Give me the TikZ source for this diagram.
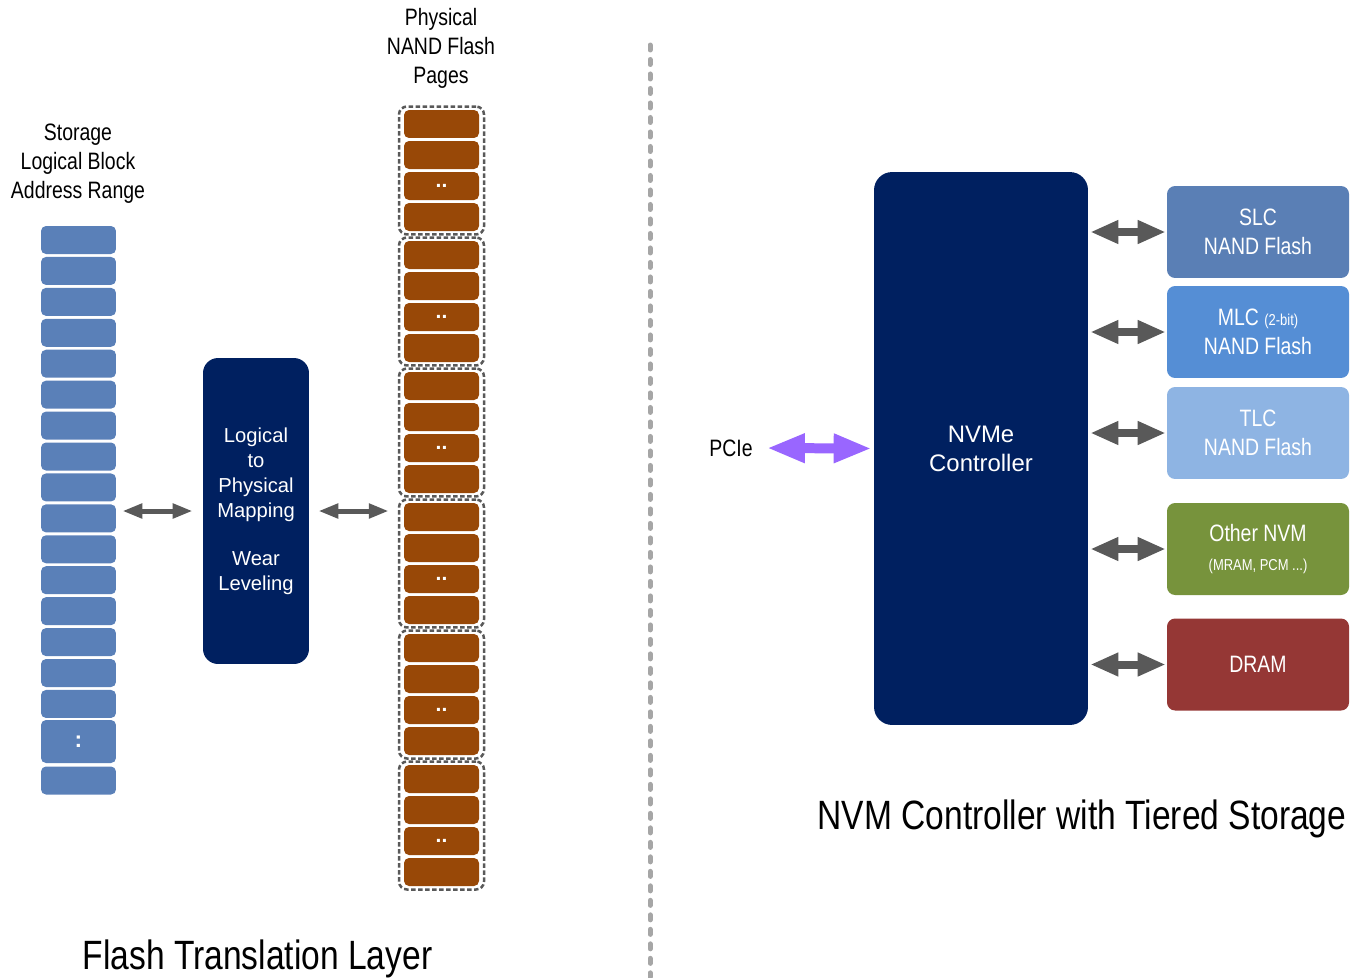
\documentclass[tikz,border=0pt]{standalone}
\usepackage{fontspec}
\setmainfont{Liberation Sans}
\newfontfamily\narrowfont[FakeStretch=0.82]{Liberation Sans}
\usetikzlibrary{arrows.meta}
\definecolor{lbablue}{HTML}{5A80B8}
\definecolor{pagebrown}{HTML}{984807}
\definecolor{ctrlnavy}{HTML}{002060}
\definecolor{arrowgray}{HTML}{595959}
\definecolor{sepgray}{HTML}{A6A6A6}
\definecolor{slcblue}{HTML}{5A7FB5}
\definecolor{mlcblue}{HTML}{558ED5}
\definecolor{tlcblue}{HTML}{8EB4E3}
\definecolor{nvmgreen}{HTML}{77933C}
\definecolor{dramred}{HTML}{953735}
\definecolor{pciepurple}{HTML}{9966FF}
\begin{document}
\begin{tikzpicture}[x=0.02cm,y=-0.02cm,
  headtext/.style={align=center,font=\narrowfont\fontsize{13.5}{16.6}\selectfont},
  titletext/.style={anchor=base,font=\narrowfont\fontsize{23.3}{28}\selectfont},
  lbablock/.style={fill=lbablue,rounded corners=0.1cm,minimum width=1.5cm,minimum height=0.56cm,inner sep=0pt,text=white,font=\fontsize{13}{13}\selectfont\bfseries},
  pageblock/.style={fill=pagebrown,rounded corners=0.1cm,minimum width=1.5cm,minimum height=0.56cm,inner sep=0pt,text=white,font=\fontsize{12}{12}\selectfont\bfseries},
  pagegroup/.style={draw=arrowgray,line width=0.05cm,dash pattern=on 0.09cm off 0.05cm,rounded corners=0.16cm,minimum width=1.7cm,minimum height=2.56cm},
  ctrlbox/.style={fill=ctrlnavy,text=white,align=center,inner sep=0pt},
  tierbox/.style={rounded corners=0.16cm,minimum width=3.64cm,minimum height=1.84cm,inner sep=0pt,text=white,align=center,font=\narrowfont\fontsize{13.5}{16.5}\selectfont},
  thinarrow/.style={draw=arrowgray,line width=0.1cm,{Triangle[length=0.4cm,width=0.28cm]}-{Triangle[length=0.4cm,width=0.28cm]}},
  widearrow/.style={draw=arrowgray,line width=0.16cm,{Triangle[length=0.56cm,width=0.44cm]}-{Triangle[length=0.56cm,width=0.44cm]}},
  busarrow/.style={draw=pciepurple,line width=0.2cm,{Triangle[length=0.76cm,width=0.54cm]}-{Triangle[length=0.76cm,width=0.54cm]}}]
\useasboundingbox (0,0) rectangle (1354,977);

\node[headtext] (lbahead) at (78,164) {Storage\\Logical Block\\Address Range};
\foreach \i in {0,...,15}
  \node[lbablock] (lba\i) at (78.5,{240+30.93*\i}) {};
\node[lbablock,minimum height=0.86cm] (lbadots) at (78.5,741.5) {:};
\node[lbablock] (lbalast) at (78.5,780.5) {};

\node[ctrlbox,rounded corners=0.3cm,minimum width=2.12cm,minimum height=6.12cm,
  font=\fontsize{11.5}{14.2}\selectfont] (map) at (256,511)
  {Logical\\to\\Physical\\Mapping\\[13pt]Wear\\Leveling};

\node[headtext] (pghead) at (441,48.5) {Physical\\NAND Flash\\Pages};
\foreach \g in {0,...,5} {
  \node[pagegroup] (grp\g) at (441.5,{170.5+131*\g}) {};
  \foreach \k in {0,...,3}
    \node[pageblock] (pg\g\k) at (441.5,{124+131*\g+31*\k}) {\ifnum\k=2 ..\fi};
}

\draw[thinarrow,shorten <=0.12cm,shorten >=0.2cm] (lba9.east |- map.west) -- (map.west);
\draw[thinarrow,shorten <=0.18cm,shorten >=0.18cm] (map.east) -- (map.east -| grp3.west);

\node[titletext] (ftltitle) at (257.5,969) {Flash Translation Layer};

\coordinate (septop) at (650,45);
\coordinate (sepbot) at (650,977);
\draw[sepgray,line width=0.1cm,line cap=round,dash pattern=on 0.1cm off 0.19cm] (septop) -- (sepbot);

\node[ctrlbox,rounded corners=0.36cm,minimum width=4.28cm,minimum height=11.06cm,
  font=\fontsize{13.6}{16.4}\selectfont] (nvme) at (981,448.5) {NVMe\\Controller};
\node[headtext] (pcie) at (731,448) {PCIe};
\draw[busarrow,shorten <=0.16cm,shorten >=0.04cm] (pcie.east) -- (nvme.west);

\node[tierbox,fill=slcblue] (slc) at (1258,232) {SLC\\NAND Flash};
\node[tierbox,fill=mlcblue] (mlc) at (1258,332) {MLC {\fontsize{9}{9}\selectfont(2-bit)}\\NAND Flash};
\node[tierbox,fill=tlcblue] (tlc) at (1258,433) {TLC\\NAND Flash};
\node[tierbox,fill=nvmgreen] (nvm) at (1258,549) {Other NVM\\{\fontsize{9}{9}\selectfont(MRAM, PCM ...)}};
\node[tierbox,fill=dramred] (dram) at (1258,664.5) {DRAM};
\foreach \t in {slc,mlc,tlc,nvm,dram}
  \draw[widearrow,shorten <=0.04cm,shorten >=0.02cm] (nvme.east |- \t.west) -- (\t.west);

\node[titletext] (nvmtitle) at (1082,829) {NVM Controller with Tiered Storage};
\end{tikzpicture}
\end{document}
